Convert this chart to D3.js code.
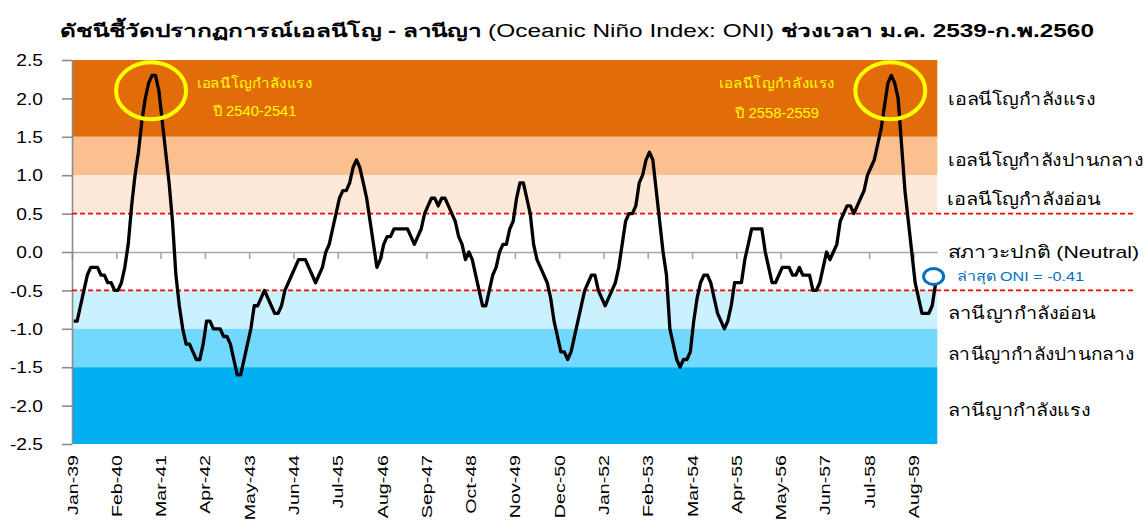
<!DOCTYPE html>
<html>
<head>
<meta charset="utf-8">
<script src="https://cdn.jsdelivr.net/npm/d3@7"></script>
<style>
  body { margin: 0; background: #fff; }
  svg { display: block; }
  text { font-family: "Liberation Sans", Arial, sans-serif; }
</style>
</head>
<body>
<svg id="chart" width="1148" height="523"></svg>
<script>
// ---- data ----
const monthNames = ["Jan","Feb","Mar","Apr","May","Jun","Jul","Aug","Sep","Oct","Nov","Dec"]
const firstYear = 39   // พ.ศ. 2539

// ONI, ม.ค. 2539 - ก.พ. 2560
const oni = [
  -0.9,-0.9,-0.7,-0.5,-0.3,-0.2,-0.2,-0.2,-0.3,-0.3,-0.4,-0.4,
  -0.5,-0.5,-0.4,-0.2, 0.1, 0.6, 1.0, 1.3, 1.7, 2.0, 2.2, 2.3,
   2.3, 2.1, 1.7, 1.3, 0.9, 0.4,-0.3,-0.7,-1.0,-1.2,-1.2,-1.3,
  -1.4,-1.4,-1.2,-0.9,-0.9,-1.0,-1.0,-1.0,-1.1,-1.1,-1.2,-1.4,
  -1.6,-1.6,-1.4,-1.2,-1.0,-0.7,-0.7,-0.6,-0.5,-0.6,-0.7,-0.8,
  -0.8,-0.7,-0.5,-0.4,-0.3,-0.2,-0.1,-0.1,-0.1,-0.2,-0.3,-0.4,
  -0.3,-0.2, 0.0, 0.1, 0.3, 0.5, 0.7, 0.8, 0.8, 0.9, 1.1, 1.2,
   1.1, 0.9, 0.7, 0.4, 0.1,-0.2,-0.1, 0.1, 0.2, 0.2, 0.3, 0.3,
   0.3, 0.3, 0.3, 0.2, 0.1, 0.2, 0.3, 0.5, 0.6, 0.7, 0.7, 0.6,
   0.7, 0.7, 0.6, 0.5, 0.4, 0.2, 0.1,-0.1, 0.0,-0.1,-0.3,-0.5,
  -0.7,-0.7,-0.5,-0.3,-0.2, 0.0, 0.1, 0.1, 0.3, 0.4, 0.7, 0.9,
   0.9, 0.7, 0.5, 0.1,-0.1,-0.2,-0.3,-0.4,-0.6,-0.9,-1.1,-1.3,
  -1.3,-1.4,-1.3,-1.1,-0.9,-0.7,-0.5,-0.4,-0.3,-0.3,-0.5,-0.6,
  -0.7,-0.6,-0.5,-0.4,-0.2, 0.1, 0.4, 0.5, 0.5, 0.6, 0.9, 1.0,
   1.2, 1.3, 1.2, 0.8, 0.4, 0.0,-0.3,-1.0,-1.2,-1.4,-1.5,-1.4,
  -1.4,-1.3,-0.9,-0.6,-0.4,-0.3,-0.3,-0.4,-0.6,-0.8,-0.9,-1.0,
  -0.9,-0.7,-0.4,-0.4,-0.4,-0.1, 0.1, 0.3, 0.3, 0.3, 0.3, 0.0,
  -0.2,-0.4,-0.4,-0.3,-0.2,-0.2,-0.2,-0.3,-0.3,-0.2,-0.3,-0.3,
  -0.3,-0.5,-0.5,-0.4,-0.2, 0.0,-0.1, 0.0, 0.1, 0.4, 0.5, 0.6,
   0.6, 0.5, 0.6, 0.7, 0.8, 1.0, 1.1, 1.2, 1.4, 1.6, 1.9, 2.2,
   2.3, 2.2, 2.0, 1.4, 0.8, 0.4, 0.0,-0.4,-0.6,-0.8,-0.8,-0.8,
  -0.7,-0.41
]

const tickLabels = ["Jan-39","Feb-40","Mar-41","Apr-42","May-43","Jun-44","Jul-45","Aug-46","Sep-47","Oct-48",
                    "Nov-49","Dec-50","Jan-52","Feb-53","Mar-54","Apr-55","May-56","Jun-57","Jul-58","Aug-59"]
const tickEvery = 13
const yTicks = [2.5, 2.0, 1.5, 1.0, 0.5, 0.0, -0.5, -1.0, -1.5, -2.0, -2.5]

// ระดับความรุนแรง (band edges top->bottom) and colours
const bandEdges = [2.5, 1.5, 1.0, 0.5, -0.5, -1.0, -1.5, -2.5]
const bandColors = ["#e36c0a", "#fac090", "#fde9d9", "#ffffff", "#cbf0fe", "#72d8fe", "#00b0f0"]
const thresholds = [0.5, -0.5]

const stateLabels = ["เอลนีโญกำลังแรง", "เอลนีโญกำลังปานกลาง", "เอลนีโญกำลังอ่อน", "สภาวะปกติ (Neutral)",
                     "ลานีญากำลังอ่อน", "ลานีญากำลังปานกลาง", "ลานีญากำลังแรง"]
const stateLevels = [2.0, 1.2, 0.69, 0.0, -0.79, -1.33, -2.05]
const stateWidths = [147, 195, 154, 191, 148, 186, 142]

const peakIdx = [23, 240]
const peakNotes = [["เอลนีโญกำลังแรง", "ปี 2540-2541"], ["เอลนีโญกำลังแรง", "ปี 2558-2559"]]
const latestText = "ล่าสุด ONI = -0.41"

// ---- chart ----
const svg = d3.select("#chart")
const plotL = 72, plotR = 937.3, plotT = 60, plotB = 444

const months = oni.map((d, i) => monthNames[i % 12] + "-" + (firstYear + Math.floor(i / 12)))
const xi = d3.scaleLinear().domain([0, months.length]).range([plotL, plotR])   // category boundaries
const xc = i => xi(i + 0.5)                                                     // category centres
const y = d3.scaleLinear().domain([-2.5, 2.5]).range([plotB, plotT])

// bands
svg.append("g").selectAll("rect")
  .data(bandColors)
  .enter().append("rect")
    .attr("x", plotL)
    .attr("y", (d, i) => y(bandEdges[i]))
    .attr("width", plotR - plotL)
    .attr("height", (d, i) => y(bandEdges[i + 1]) - y(bandEdges[i]))
    .attr("fill", d => d)

// zero line with month ticks
const xAxis = svg.append("g")
  .attr("transform", `translate(0,${y(0)})`)
  .call(d3.axisBottom(xi).tickValues(d3.range(0, months.length, tickEvery)).tickSize(7).tickFormat("").tickSizeOuter(0))
xAxis.selectAll("path,line").attr("stroke", "#a6a6a6").attr("stroke-width", 1.6)

// month labels at the bottom
const xLab = svg.append("g")
  .attr("transform", `translate(0,${plotB})`)
  .call(d3.axisBottom(xi).tickValues(d3.range(0, months.length, tickEvery)).tickSize(0)
        .tickFormat((d, j) => tickLabels[j]))
xLab.select(".domain").remove()
xLab.selectAll("text")
  .attr("x", 0).attr("y", 0).attr("dy", "0.36em")
  .attr("transform", "translate(0,11) rotate(-90) scale(1.4,1)")
  .style("text-anchor", "end")
  .style("font-size", "14px")
  .attr("fill", "#000")

// y axis
const yAxis = svg.append("g")
  .attr("transform", `translate(${plotL},0)`)
  .call(d3.axisLeft(y).tickValues(yTicks).tickSize(10).tickSizeOuter(0).tickFormat(d => d.toFixed(1)))
yAxis.selectAll("path,line").attr("stroke", "#8c8c8c").attr("stroke-width", 1.6)
yAxis.selectAll("text")
  .attr("x", null).attr("dy", "0.36em")
  .attr("transform", "translate(-29,0) scale(1.2,1)")
  .style("font-size", "16px")
  .attr("fill", "#000")

// threshold lines
svg.append("g").selectAll("line")
  .data(thresholds)
  .enter().append("line")
    .attr("x1", plotL).attr("x2", 1133)
    .attr("y1", d => y(d)).attr("y2", d => y(d))
    .attr("stroke", "#ff0000")
    .attr("stroke-width", 1.8)
    .attr("stroke-dasharray", "5,3")

// ONI line
const line = d3.line().x((d, i) => xc(i)).y(d => y(d))
svg.append("path")
  .datum(oni)
  .attr("d", line)
  .attr("fill", "none")
  .attr("stroke", "#000")
  .attr("stroke-width", 3.3)
  .attr("stroke-linejoin", "round")

// yellow rings on the strong El Nino peaks
svg.append("g").selectAll("ellipse")
  .data(peakIdx)
  .enter().append("ellipse")
    .attr("cx", d => xc(d) - 1)
    .attr("cy", y(2.1))
    .attr("rx", 35)
    .attr("ry", 28.5)
    .attr("fill", "none")
    .attr("stroke", "#ffff00")
    .attr("stroke-width", 4)

const noteX = [254.5, 777]
peakNotes.forEach((lines, k) => {
  svg.append("text")
    .attr("x", noteX[k]).attr("y", 88)
    .attr("text-anchor", "middle")
    .attr("textLength", 116).attr("lengthAdjust", "spacingAndGlyphs")
    .style("font-size", "14px").attr("fill", "#ffff00")
    .text(lines[0])
  svg.append("text")
    .attr("x", noteX[k]).attr("y", 116 + k * 2)
    .attr("text-anchor", "middle")
    .attr("textLength", 84).attr("lengthAdjust", "spacingAndGlyphs")
    .style("font-size", "14px").attr("fill", "#ffff00")
    .text(lines[1])
})

// latest value marker
const last = oni.length - 1
svg.append("ellipse")
  .attr("cx", xc(last) - 2).attr("cy", y(oni[last]) - 7)
  .attr("rx", 10).attr("ry", 8)
  .attr("fill", "none")
  .attr("stroke", "#0070c0")
  .attr("stroke-width", 3)

svg.append("text")
  .attr("x", 957).attr("y", y(oni[last]) - 2)
  .attr("textLength", 127).attr("lengthAdjust", "spacingAndGlyphs")
  .style("font-size", "13px").attr("fill", "#0070c0")
  .text(latestText)

// state labels on the right
svg.append("g").selectAll("text")
  .data(stateLabels)
  .enter().append("text")
    .attr("x", (d, i) => i === 2 ? 947 : 948)
    .attr("y", (d, i) => y(stateLevels[i]))
    .attr("dy", "0.36em")
    .attr("textLength", (d, i) => stateWidths[i])
    .attr("lengthAdjust", "spacingAndGlyphs")
    .style("font-size", "17px")
    .attr("fill", "#000")
    .text(d => d)

// title
const title = svg.append("text")
  .attr("x", 60).attr("y", 37)
  .attr("textLength", 1034).attr("lengthAdjust", "spacingAndGlyphs")
  .style("font-size", "18px")
title.append("tspan").style("font-weight", "bold").text("ดัชนีชี้วัดปรากฏการณ์เอลนีโญ - ลานีญา ")
title.append("tspan").text("(Oceanic Niño Index: ONI)")
title.append("tspan").style("font-weight", "bold").text(" ช่วงเวลา ม.ค. 2539-ก.พ.2560")
</script>
</body>
</html>
